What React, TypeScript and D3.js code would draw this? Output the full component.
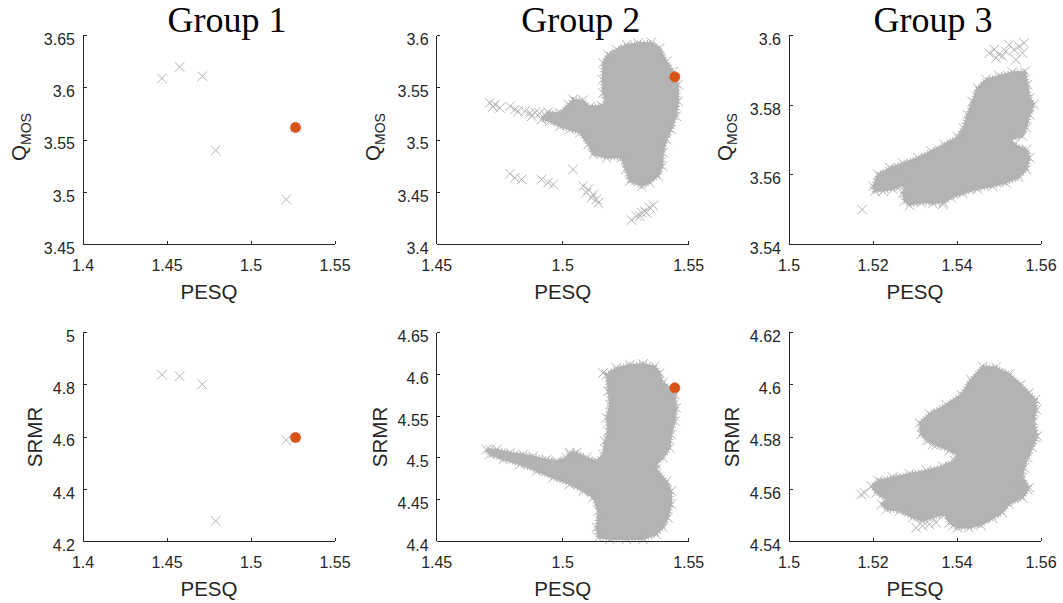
import React from 'react';
import * as d3 from 'd3';

type Pt = [number, number];

// ---- layout / style ----
const W = 1063;
const H = 603;
const COL_X = [83, 436.7, 789];
const ROW_Y = [35.7, 332.7];
const PW = 252;
const PH = 208.6;
const AXIS = '#262626';
const GREY = '#b3b3b3';
const BEST = '#d95319';
const SANS = '"Liberation Sans", Arial, Helvetica, sans-serif';
const SERIF = '"Liberation Serif", "Times New Roman", serif';

// ---- axes ----
const groups = ['Group 1', 'Group 2', 'Group 3'];
const pesqDomains: Pt[] = [[1.4, 1.55], [1.45, 1.55], [1.5, 1.56]];
const pesqTicks = [[1.4, 1.45, 1.5, 1.55], [1.45, 1.5, 1.55], [1.5, 1.52, 1.54, 1.56]];
const qmosDomains: Pt[] = [[3.45, 3.65], [3.4, 3.6], [3.54, 3.6]];
const qmosTicks = [[3.45, 3.5, 3.55, 3.6, 3.65], [3.4, 3.45, 3.5, 3.55, 3.6], [3.54, 3.56, 3.58, 3.6]];
const srmrDomains: Pt[] = [[4.2, 5], [4.4, 4.65], [4.54, 4.62]];
const srmrTicks = [[4.2, 4.4, 4.6, 4.8, 5], [4.4, 4.45, 4.5, 4.55, 4.6, 4.65], [4.54, 4.56, 4.58, 4.6, 4.62]];

// ---- Group 1: individual configurations ----
const g1Pesq = [1.447, 1.4575, 1.471, 1.479, 1.521, 1.5265];
const g1Qmos = [3.609, 3.62, 3.611, 3.54, 3.493, 3.562];
const g1Srmr = [4.839, 4.833, 4.802, 4.278, 4.588, 4.598];
const g1Best: Pt[] = [[1.5265, 3.562], [1.5265, 4.598]];

// ---- Group 2: PESQ vs Q_MOS (dense region outline + sparse points) ----
const g2QmosCloud: Pt[] = [
  [1.516, 3.5739], [1.518, 3.5818], [1.5213, 3.5866], [1.5253, 3.5914], [1.5299, 3.593],
  [1.5352, 3.5936], [1.5385, 3.5882], [1.5412, 3.5754], [1.5438, 3.5658], [1.5458, 3.5531],
  [1.5458, 3.5371], [1.5451, 3.5228], [1.5431, 3.51], [1.5412, 3.5005], [1.5398, 3.4878],
  [1.5396, 3.4749], [1.5378, 3.4654], [1.5345, 3.459], [1.5313, 3.4558], [1.5266, 3.4606],
  [1.525, 3.4718], [1.5233, 3.483], [1.5174, 3.483], [1.5121, 3.4861], [1.5101, 3.4957],
  [1.5068, 3.5069], [1.5028, 3.51], [1.4989, 3.5132], [1.4949, 3.518], [1.4916, 3.5196],
  [1.4942, 3.5266], [1.4989, 3.526], [1.5022, 3.534], [1.5041, 3.5388], [1.5081, 3.5381],
  [1.5108, 3.5318], [1.5154, 3.533], [1.5171, 3.5371], [1.516, 3.5452], [1.5158, 3.5579],
];
const g2QmosPoints: Pt[] = [
  [1.4711, 3.5356], [1.4731, 3.534], [1.4751, 3.5308], [1.4724, 3.5318], [1.4791, 3.5323],
  [1.481, 3.5292], [1.4823, 3.5276], [1.485, 3.5276], [1.487, 3.526], [1.489, 3.5266],
  [1.4909, 3.5254], [1.4929, 3.5244], [1.4877, 3.5228],
  [1.4791, 3.4677], [1.481, 3.4638], [1.4837, 3.4622],
  [1.4916, 3.4622], [1.4942, 3.459], [1.4962, 3.4574],
  [1.5041, 3.4718],
  [1.5081, 3.4558], [1.5101, 3.4526], [1.5095, 3.4495], [1.5121, 3.4478], [1.5134, 3.4431],
  [1.5141, 3.4399], [1.5114, 3.4447],
  [1.5273, 3.4233], [1.5293, 3.4271], [1.5313, 3.4303], [1.5326, 3.4319], [1.5345, 3.4351],
  [1.5359, 3.4373], [1.5306, 3.4271], [1.5332, 3.4303],
];
const g2QmosBest: Pt = [1.5445, 3.5605];

// ---- Group 2: PESQ vs SRMR ----
const g2SrmrCloud: Pt[] = [
  [1.5174, 4.5998], [1.5213, 4.6078], [1.5266, 4.6117], [1.5319, 4.6126], [1.5365, 4.6097],
  [1.5385, 4.6018], [1.5398, 4.5898], [1.5425, 4.5839], [1.5445, 4.5758], [1.5451, 4.5599],
  [1.5445, 4.5439], [1.5431, 4.528], [1.5425, 4.5121], [1.5398, 4.5001], [1.5372, 4.4921],
  [1.5372, 4.4861], [1.5412, 4.4721], [1.5431, 4.4602], [1.5431, 4.4443], [1.5418, 4.4283],
  [1.5398, 4.4164], [1.5372, 4.4084], [1.5319, 4.4024], [1.5253, 4.4024], [1.5187, 4.4024],
  [1.5141, 4.4044], [1.5134, 4.4164], [1.5141, 4.4362], [1.5121, 4.4523], [1.5081, 4.4602],
  [1.5028, 4.4682], [1.4962, 4.4762], [1.4896, 4.4841], [1.483, 4.4921], [1.4764, 4.4981],
  [1.4711, 4.5041], [1.4698, 4.51], [1.4738, 4.51], [1.4791, 4.5061], [1.4843, 4.5041],
  [1.4883, 4.502], [1.4936, 4.4981], [1.4976, 4.4961], [1.5015, 4.5001], [1.5028, 4.5061],
  [1.5055, 4.5061], [1.5095, 4.5001], [1.5134, 4.4961], [1.516, 4.5041], [1.5167, 4.52],
  [1.518, 4.5319], [1.5174, 4.548], [1.5187, 4.5639], [1.518, 4.5798],
];
const g2SrmrPoints: Pt[] = [
  [1.516, 4.6018], [1.4711, 4.51], [1.4724, 4.5061], [1.4764, 4.5041], [1.4804, 4.502],
  [1.4843, 4.4961], [1.4896, 4.4941], [1.4936, 4.4921], [1.4976, 4.4941], [1.5028, 4.5041],
];
const g2SrmrBest: Pt = [1.5445, 4.5839];

// ---- Group 3: PESQ vs Q_MOS ----
const g3QmosCloud: Pt[] = [
  [1.52, 3.5567], [1.5212, 3.5601], [1.524, 3.562], [1.5271, 3.5633], [1.5307, 3.5649],
  [1.5338, 3.5668], [1.537, 3.5687], [1.5401, 3.5709], [1.5415, 3.5735], [1.5425, 3.5773],
  [1.5436, 3.5811], [1.5449, 3.585], [1.5469, 3.5874], [1.55, 3.5885], [1.5532, 3.5895],
  [1.5562, 3.5898], [1.5568, 3.5859], [1.5573, 3.5821], [1.5583, 3.5802], [1.5573, 3.5773],
  [1.5565, 3.5735], [1.5556, 3.5711], [1.5528, 3.5701], [1.5536, 3.5687], [1.5565, 3.5673],
  [1.5573, 3.5649], [1.5565, 3.5615], [1.5548, 3.5592], [1.5516, 3.5577], [1.5485, 3.5567],
  [1.5449, 3.5558], [1.5413, 3.5546], [1.5386, 3.5534], [1.5368, 3.552], [1.5342, 3.5518],
  [1.5315, 3.552], [1.5287, 3.5512], [1.5275, 3.5524], [1.5271, 3.5548], [1.5279, 3.5572],
  [1.5263, 3.5567], [1.5247, 3.5558], [1.5224, 3.5553], [1.5204, 3.5553],
];
const g3QmosPoints: Pt[] = [
  [1.5174, 3.55], [1.5366, 3.5515],
  [1.5477, 3.595], [1.5489, 3.596], [1.55, 3.5946], [1.5516, 3.5955], [1.5524, 3.5974],
  [1.5536, 3.596], [1.5548, 3.5969], [1.556, 3.5979], [1.5556, 3.595], [1.554, 3.5931],
  [1.5493, 3.5936], [1.5508, 3.5941],
];

// ---- Group 3: PESQ vs SRMR ----
const g3SrmrCloud: Pt[] = [
  [1.5311, 4.5854], [1.5334, 4.5889], [1.5374, 4.5924], [1.541, 4.5963], [1.5433, 4.602],
  [1.5461, 4.6071], [1.5493, 4.6067], [1.5524, 4.6042], [1.5552, 4.6001], [1.5572, 4.5969],
  [1.5587, 4.5944], [1.5589, 4.5905], [1.5583, 4.586], [1.5591, 4.5803], [1.5579, 4.5759],
  [1.5568, 4.572], [1.556, 4.5682], [1.5556, 4.5644], [1.5572, 4.5606], [1.5556, 4.5567],
  [1.5524, 4.5542], [1.5508, 4.551], [1.5485, 4.5488], [1.5457, 4.5462], [1.5429, 4.5452],
  [1.5401, 4.5452], [1.5382, 4.5472], [1.537, 4.5503], [1.5342, 4.5491], [1.5318, 4.5478],
  [1.5295, 4.5491], [1.5263, 4.5516], [1.5232, 4.5522], [1.522, 4.5542], [1.5232, 4.5561],
  [1.5208, 4.5586], [1.5196, 4.5612], [1.5212, 4.5633], [1.5247, 4.5646], [1.5287, 4.5659],
  [1.5327, 4.5672], [1.5366, 4.5688], [1.5394, 4.571], [1.5401, 4.5733], [1.5382, 4.5748],
  [1.535, 4.5769], [1.5327, 4.5787], [1.5315, 4.581],
];
const g3SrmrPoints: Pt[] = [
  [1.5172, 4.558], [1.518, 4.5586],
  [1.5303, 4.5452], [1.5318, 4.5459], [1.5334, 4.5465], [1.535, 4.5472], [1.539, 4.5459],
  [1.5587, 4.5797], [1.5548, 4.5593], [1.5568, 4.5599],
  [1.5318, 4.5841], [1.5334, 4.579], [1.5342, 4.5771],
];

interface PanelProps {
  col: number;
  row: number;
  xDomain: Pt;
  xTicks: number[];
  yDomain: Pt;
  yTicks: number[];
  yLabel: 'QMOS' | 'SRMR';
  clouds: Pt[][];
  points: Pt[];
  best?: Pt;
}

const fmt = (v: number) => String(+v.toFixed(3));
// approximate advance width of a numeric label at 16px Arial metrics
const tickWidth = (s: string) => [...s].reduce((a, c) => a + (c === '.' ? 0.278 : 0.556), 0) * 16;

const crossPath = (cx: number, cy: number, h: number) =>
  `M${cx - h},${cy - h}L${cx + h},${cy + h}M${cx - h},${cy + h}L${cx + h},${cy - h}`;

function Panel({ col, row, xDomain, xTicks, yDomain, yTicks, yLabel, clouds, points, best }: PanelProps) {
  const x0 = COL_X[col];
  const y0 = ROW_Y[row];
  const x = d3.scaleLinear().domain(xDomain).range([x0, x0 + PW]);
  const y = d3.scaleLinear().domain(yDomain).range([y0 + PH, y0]);
  const outline = d3
    .line<Pt>()
    .x((d) => x(d[0]))
    .y((d) => y(d[1]))
    .curve(d3.curveLinearClosed);

  const markers: Pt[] = [...clouds.flat(), ...points];
  const crosses = markers.map((d) => crossPath(x(d[0]), y(d[1]), 4.8)).join('');

  const maxW = Math.max(...yTicks.map((t) => tickWidth(fmt(t))));
  const sub = yLabel === 'QMOS';
  const labelX = x0 - 8 - maxW - (sub ? 18 : 11);
  const labelY = y0 + PH / 2 + (sub ? -3 : 0);
  const xAxisY = y0 + PH;

  return (
    <g>
      {clouds.map((c, i) => (
        <g key={i}>
          <path d={outline(c) ?? ''} fill={GREY} stroke={GREY} strokeWidth={1.5} strokeLinejoin="round" />
          {/* hairy rim where overlapping crosses stick out of the dense region */}
          <path d={outline(c) ?? ''} fill="none" stroke={GREY} strokeWidth={5} strokeDasharray="1 2.2" />
        </g>
      ))}
      <path d={crosses} fill="none" stroke={GREY} strokeWidth={1} />
      {best && <circle cx={x(best[0])} cy={y(best[1])} r={5} fill={BEST} stroke={BEST} strokeWidth={0.8} />}

      {/* axes */}
      <g stroke={AXIS} strokeWidth={1} shapeRendering="crispEdges" fill="none">
        <line x1={x0} x2={x0} y1={y0} y2={xAxisY} />
        <line x1={x0} x2={x0 + PW} y1={xAxisY} y2={xAxisY} />
        {yTicks.map((t) => (
          <line key={'yt' + t} x1={x0} x2={x0 + 3.5} y1={y(t)} y2={y(t)} />
        ))}
        {xTicks.map((t) => (
          <line key={'xt' + t} x1={x(t)} x2={x(t)} y1={xAxisY} y2={xAxisY - 3.5} />
        ))}
      </g>
      <g fill={AXIS} fontFamily={SANS} fontSize={16}>
        {yTicks.map((t) => (
          <text key={'yl' + t} x={x0 - 8} y={y(t) + 9.4} textAnchor="end">
            {fmt(t)}
          </text>
        ))}
        {xTicks.map((t) => (
          <text key={'xl' + t} x={x(t)} y={xAxisY + 27} textAnchor="middle">
            {fmt(t)}
          </text>
        ))}
      </g>
      <text x={x0 + PW / 2} y={xAxisY + 54.5} textAnchor="middle" fontFamily={SANS} fontSize={20.5} fill={AXIS}>
        PESQ
      </text>
      <text
        transform={`translate(${labelX},${labelY}) rotate(-90)`}
        textAnchor="middle"
        fontFamily={SANS}
        fontSize={20.5}
        fill={AXIS}
      >
        {sub ? (
          <>
            <tspan>Q</tspan>
            <tspan fontSize={14} dy={5}>
              MOS
            </tspan>
          </>
        ) : (
          'SRMR'
        )}
      </text>
    </g>
  );
}

export default function App() {
  const g1Q: Pt[] = g1Pesq.map((p, i) => [p, g1Qmos[i]]);
  const g1S: Pt[] = g1Pesq.map((p, i) => [p, g1Srmr[i]]);

  return (
    <svg
      width={W}
      height={H}
      viewBox={`0 0 ${W} ${H}`}
      style={{ position: 'absolute', left: 0, top: 0, background: '#fff' }}
    >
      <rect width={W} height={H} fill="#fff" />
      {groups.map((g, i) => (
        <text key={g} x={COL_X[i] + 144} y={31.7} textAnchor="middle" fontFamily={SERIF} fontSize={36} fill="#000">
          {g}
        </text>
      ))}

      <Panel col={0} row={0} xDomain={pesqDomains[0]} xTicks={pesqTicks[0]} yDomain={qmosDomains[0]}
        yTicks={qmosTicks[0]} yLabel="QMOS" clouds={[]} points={g1Q} best={g1Best[0]} />
      <Panel col={1} row={0} xDomain={pesqDomains[1]} xTicks={pesqTicks[1]} yDomain={qmosDomains[1]}
        yTicks={qmosTicks[1]} yLabel="QMOS" clouds={[g2QmosCloud]} points={g2QmosPoints} best={g2QmosBest} />
      <Panel col={2} row={0} xDomain={pesqDomains[2]} xTicks={pesqTicks[2]} yDomain={qmosDomains[2]}
        yTicks={qmosTicks[2]} yLabel="QMOS" clouds={[g3QmosCloud]} points={g3QmosPoints} />

      <Panel col={0} row={1} xDomain={pesqDomains[0]} xTicks={pesqTicks[0]} yDomain={srmrDomains[0]}
        yTicks={srmrTicks[0]} yLabel="SRMR" clouds={[]} points={g1S} best={g1Best[1]} />
      <Panel col={1} row={1} xDomain={pesqDomains[1]} xTicks={pesqTicks[1]} yDomain={srmrDomains[1]}
        yTicks={srmrTicks[1]} yLabel="SRMR" clouds={[g2SrmrCloud]} points={g2SrmrPoints} best={g2SrmrBest} />
      <Panel col={2} row={1} xDomain={pesqDomains[2]} xTicks={pesqTicks[2]} yDomain={srmrDomains[2]}
        yTicks={srmrTicks[2]} yLabel="SRMR" clouds={[g3SrmrCloud]} points={g3SrmrPoints} />
    </svg>
  );
}
